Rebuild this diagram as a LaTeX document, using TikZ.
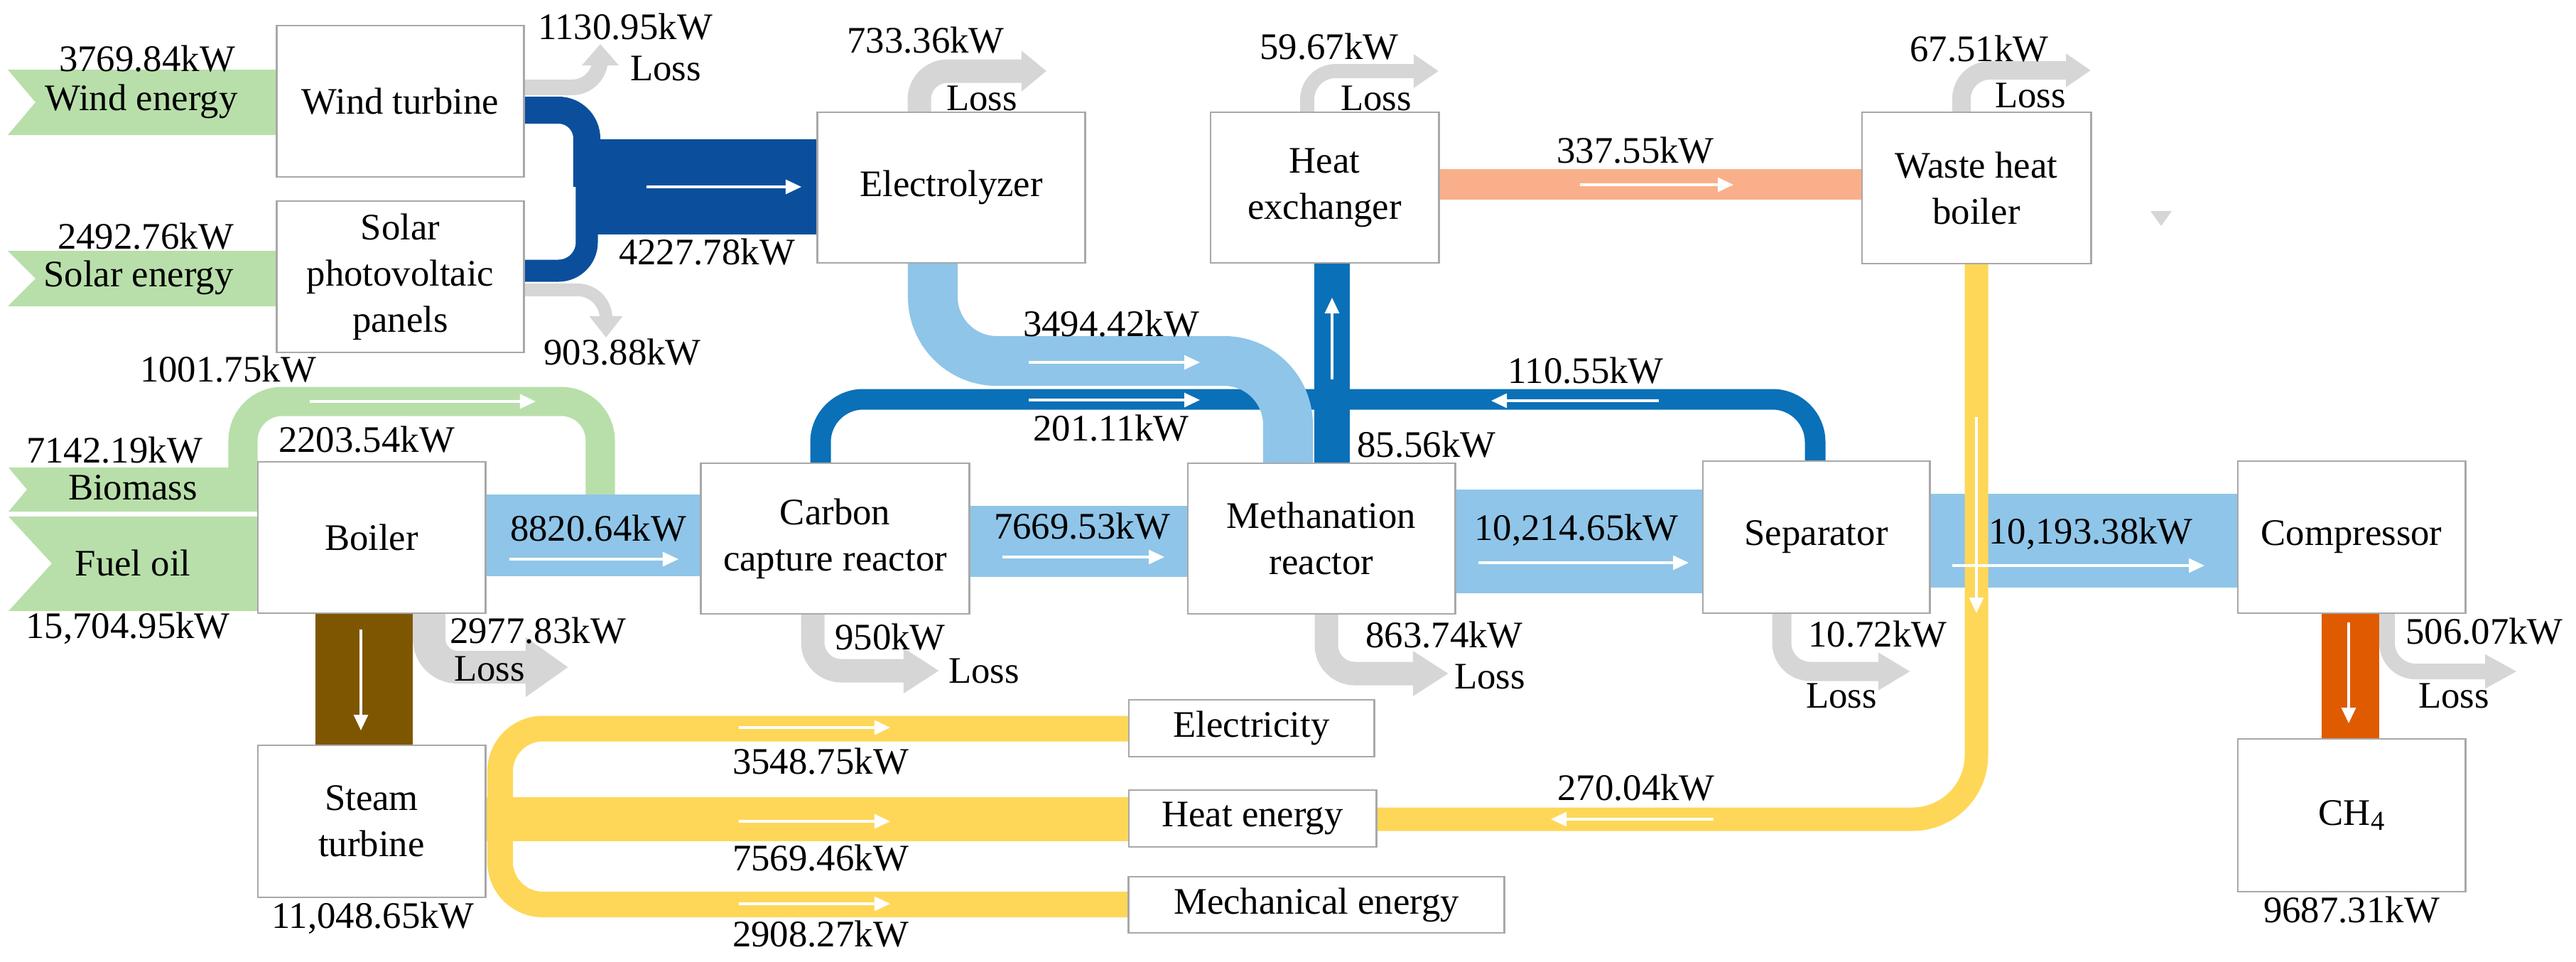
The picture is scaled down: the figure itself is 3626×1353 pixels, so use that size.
\documentclass[tikz,border=0pt]{standalone}
\usepackage{fontspec}
\setmainfont{Liberation Serif}
\usetikzlibrary{arrows.meta}
\definecolor{cgreen}{HTML}{B8DFAA}
\definecolor{cdblue}{HTML}{0B4F9C}
\definecolor{cmblue}{HTML}{0A70B8}
\definecolor{clblue}{HTML}{8FC5E8}
\definecolor{corange}{HTML}{F9B08A}
\definecolor{cyellow}{HTML}{FED759}
\definecolor{cbrown}{HTML}{7F5600}
\definecolor{cred}{HTML}{E05A00}
\definecolor{cgray}{HTML}{D6D6D6}
\definecolor{cborder}{HTML}{A8A8A8}
\tikzset{
  box/.style={draw=cborder, line width=0.8pt, fill=white, inner sep=0pt, align=center, font=\rmfamily\fontsize{15}{18.5}\selectfont},
  lbl/.style={inner sep=0pt, font=\rmfamily\fontsize{15}{18}\selectfont},
  flowarrow/.style={draw=white, line width=0.9pt, -{Triangle[length=0.22cm,width=0.2cm]}},
  lossarrow/.style={draw=cgray, rounded corners=0.4cm},
}
\begin{document}
\begin{tikzpicture}[x=0.01cm,y=-0.01cm]
\useasboundingbox (0,0) rectangle (3626,1353);
% input chevrons
\fill[cgreen] (11,98)--(390,98)--(390,190)--(11,190)--(50,144)--cycle;
\fill[cgreen] (11,353)--(390,353)--(390,431)--(11,431)--(50,392)--cycle;
\fill[cgreen] (12,658)--(363,658)--(363,720)--(12,720)--(38,689)--cycle;
\fill[cgreen] (12,727)--(363,727)--(363,860)--(12,860)--(73,793)--cycle;
% green loop
\draw[cgreen, line width=0.41cm, rounded corners=0.55cm] (342,660)--(342,565)--(845,565)--(845,698);
% dark blue
\draw[cdblue, line width=0.38cm, rounded corners=0.4cm] (737,155)--(826,155)--(826,263);
\draw[cdblue, line width=0.31cm, rounded corners=0.4cm] (737,381)--(826,381)--(826,263);
\fill[cdblue] (826,196) rectangle (1152,330);
% loss arrows
\draw[lossarrow, line width=0.22cm, -{Triangle[length=0.3cm,width=0.5cm]}] (737,123)--(845,123)--(845,62);
\draw[lossarrow, line width=0.18cm, -{Triangle[length=0.3cm,width=0.45cm]}] (737,408)--(853,408)--(853,475);
\draw[lossarrow, line width=0.33cm, -{Triangle[length=0.35cm,width=0.55cm]}] (1294,158)--(1294,100)--(1473,100);
\draw[lossarrow, line width=0.2cm, -{Triangle[length=0.35cm,width=0.45cm]}] (1840,158)--(1840,100)--(2025,100);
\draw[lossarrow, line width=0.26cm, -{Triangle[length=0.35cm,width=0.45cm]}] (2761,158)--(2761,99)--(2943,99);
\draw[lossarrow, line width=0.46cm, -{Triangle[length=0.6cm,width=0.8cm]}] (604,863)--(604,939)--(800,939);
\draw[lossarrow, line width=0.33cm, -{Triangle[length=0.5cm,width=0.6cm]}] (1144,864)--(1144,944)--(1322,944);
\draw[lossarrow, line width=0.33cm, -{Triangle[length=0.5cm,width=0.6cm]}] (1867,864)--(1867,948)--(2039,948);
\draw[lossarrow, line width=0.27cm, -{Triangle[length=0.45cm,width=0.5cm]}] (2508,863)--(2508,945)--(2689,945);
\draw[lossarrow, line width=0.22cm, -{Triangle[length=0.45cm,width=0.45cm]}] (3360,863)--(3360,945)--(3543,945);
% medium blue loop
\draw[cmblue, line width=0.29cm, rounded corners=0.6cm] (1155,654)--(1155,562)--(2555,562)--(2555,650);
% light blue from electrolyzer
\draw[clblue, line width=0.7cm, rounded corners=0.9cm] (1313,368)--(1313,508)--(1813,508)--(1813,654);
% vertical blue to HX
\fill[cmblue] (1850,370) rectangle (1900,652);
% main light-blue bands
\fill[clblue] (683,696) rectangle (987,811);
\fill[clblue] (1364,712) rectangle (1672,812);
\fill[clblue] (2048,689) rectangle (2397,835);
\fill[clblue] (2716,695) rectangle (3150,827);
% orange
\fill[corange] (2025,238) rectangle (2621,281);
% yellow
\draw[cyellow, line width=0.33cm, rounded corners=0.9cm] (2782,369)--(2782,1153)--(1935,1153);
\draw[cyellow, line width=0.36cm, rounded corners=0.6cm] (1589,1025.5)--(704,1025.5)--(704,1273)--(1589,1273);
\fill[cyellow] (683,1122) rectangle (1589,1184);
% brown, red
\fill[cbrown] (444,863) rectangle (581,1049);
\fill[cred] (3268,863) rectangle (3349,1040);
% small triangle
\fill[cgray] (3027,297)--(3057,297)--(3042,318)--cycle;
% white flow arrows
\draw[flowarrow] (910,263)--(1128,263);
\draw[flowarrow] (436,565)--(754,565);
\draw[flowarrow] (717,787)--(955,787);
\draw[flowarrow] (508,886)--(508,1028);
\draw[flowarrow] (1448,510)--(1689,510);
\draw[flowarrow] (1448,563)--(1689,563);
\draw[flowarrow] (2335,564)--(2099,564);
\draw[flowarrow] (1875,534)--(1875,419);
\draw[flowarrow] (1411,784)--(1639,784);
\draw[flowarrow] (2081,792)--(2377,792);
\draw[flowarrow] (2224,260)--(2440,260);
\draw[flowarrow] (2782,587)--(2782,863);
\draw[flowarrow] (2748,796)--(3103,796);
\draw[flowarrow] (3306,876)--(3306,1018);
\draw[flowarrow] (1040,1024)--(1253,1024);
\draw[flowarrow] (1040,1156)--(1253,1156);
\draw[flowarrow] (1040,1272)--(1253,1272);
\draw[flowarrow] (2412,1153)--(2183,1153);
% boxes
\node[box, minimum width=3.47cm, minimum height=2.13cm] (wt) at (563.5,142.5) {Wind turbine};
\node[box, minimum width=3.47cm, minimum height=2.13cm] (pv) at (563.5,389.5) {Solar\\photovoltaic\\panels};
\node[box, minimum width=3.2cm, minimum height=2.13cm] (boiler) at (523,756.5) {Boiler};
\node[box, minimum width=3.2cm, minimum height=2.14cm] (steam) at (523,1156) {Steam\\turbine};
\node[box, minimum width=3.76cm, minimum height=2.12cm] (elz) at (1339,264) {Electrolyzer};
\node[box, minimum width=3.21cm, minimum height=2.12cm] (hx) at (1864.5,264) {Heat\\exchanger};
\node[box, minimum width=3.22cm, minimum height=2.13cm] (whb) at (2782,264.5) {Waste heat\\boiler};
\node[box, minimum width=3.77cm, minimum height=2.12cm] (ccr) at (1175.5,758) {Carbon\\capture reactor};
\node[box, minimum width=3.76cm, minimum height=2.12cm] (meth) at (1860,758) {Methanation\\reactor};
\node[box, minimum width=3.19cm, minimum height=2.14cm] (sep) at (2556.5,756) {Separator};
\node[box, minimum width=3.2cm, minimum height=2.14cm] (comp) at (3310,756) {Compressor};
\node[box, minimum width=3.2cm, minimum height=2.15cm] (ch4) at (3310,1147.5) {CH\raisebox{-0.3ex}{\fontsize{11}{12}\selectfont 4}};
\node[box, minimum width=3.45cm, minimum height=0.8cm] (elec) at (1761.5,1025) {Electricity};
\node[box, minimum width=3.48cm, minimum height=0.8cm] (heat) at (1763,1152) {Heat energy};
\node[box, minimum width=5.28cm, minimum height=0.79cm] (mech) at (1853,1273.5) {Mechanical energy};
% labels
\node[lbl] (l1) at (207,83) {3769.84kW};
\node[lbl] (l2) at (199,143) {Wind energy};
\node[lbl] (l3) at (205,333) {2492.76kW};
\node[lbl] (l4) at (195,391) {Solar energy};
\node[lbl] (l5) at (321,520) {1001.75kW};
\node[lbl] (l6) at (161,634) {7142.19kW};
\node[lbl] (l7) at (516,619) {2203.54kW};
\node[lbl] (l8) at (187,686) {Biomass};
\node[lbl] (l9) at (187,792) {Fuel oil};
\node[lbl] (l10) at (180,884) {15,704.95kW};
\node[lbl] (l11) at (880,38) {1130.95kW};
\node[lbl] (l12) at (937,96) {Loss};
\node[lbl] (l13) at (995,355) {4227.78kW};
\node[lbl] (l14) at (876,496) {903.88kW};
\node[lbl] (l15) at (842,744) {8820.64kW};
\node[lbl] (l16) at (757,888) {2977.83kW};
\node[lbl] (l17) at (689,941) {Loss};
\node[lbl] (l18) at (525,1292) {11,048.65kW};
\node[lbl] (l19) at (1303,57) {733.36kW};
\node[lbl] (l20) at (1382,138) {Loss};
\node[lbl] (l21) at (1871,66) {59.67kW};
\node[lbl] (l22) at (1937,138) {Loss};
\node[lbl] (l23) at (2302,212) {337.55kW};
\node[lbl] (l24) at (2786,69) {67.51kW};
\node[lbl] (l25) at (2858,134) {Loss};
\node[lbl] (l26) at (1564,456) {3494.42kW};
\node[lbl] (l27) at (1564,603) {201.11kW};
\node[lbl] (l28) at (2232,522) {110.55kW};
\node[lbl] (l29) at (2008,626) {85.56kW};
\node[lbl] (l30) at (1523,741) {7669.53kW};
\node[lbl] (l31) at (2219,746) {10,214.65kW};
\node[lbl] (l32) at (2943,751) {10,193.38kW};
\node[lbl] (l33) at (1253,897) {950kW};
\node[lbl] (l34) at (1385,944) {Loss};
\node[lbl] (l35) at (2033,894) {863.74kW};
\node[lbl] (l36) at (2097,952) {Loss};
\node[lbl] (l37) at (2643,893) {10.72kW};
\node[lbl] (l38) at (2592,979) {Loss};
\node[lbl] (l39) at (3497,889) {506.07kW};
\node[lbl] (l40) at (3454,979) {Loss};
\node[lbl] (l41) at (3310,1281) {9687.31kW};
\node[lbl] (l42) at (1155,1072) {3548.75kW};
\node[lbl] (l43) at (1155,1208) {7569.46kW};
\node[lbl] (l44) at (1155,1315) {2908.27kW};
\node[lbl] (l45) at (2303,1109) {270.04kW};
\end{tikzpicture}
\end{document}
